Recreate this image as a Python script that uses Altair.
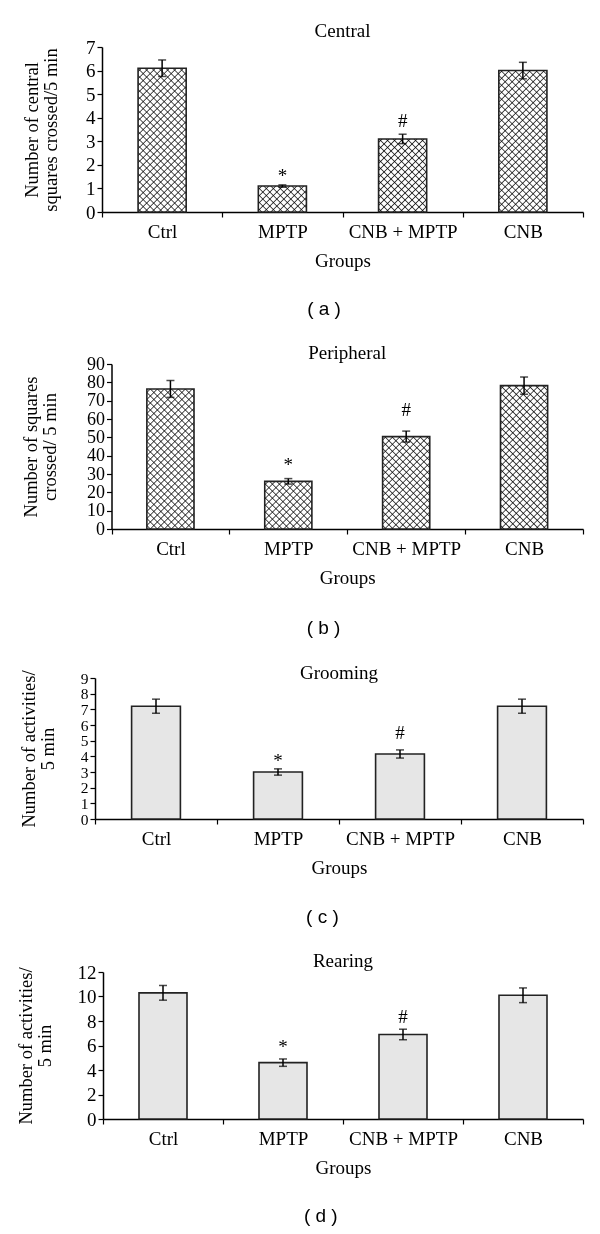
import altair as alt
import pandas as pd

groups = ["Ctrl", "MPTP", "CNB + MPTP", "CNB"]
sig = ["", "*", "#", ""]

# (a) Central
a_mean = [6.1, 1.1, 3.1, 6.0]
a_err = [0.35, 0.05, 0.2, 0.35]
a_sig_y = [0, 1.67, 3.92, 0]

# (b) Peripheral
b_mean = [76.4, 26.0, 50.4, 78.2]
b_err = [4.6, 1.5, 3.0, 4.7]
b_sig_y = [0, 36.4, 65.5, 0]

# (c) Grooming
c_mean = [7.2, 3.0, 4.15, 7.2]
c_err = [0.45, 0.2, 0.26, 0.45]
c_sig_y = [0, 3.87, 5.53, 0]

# (d) Rearing
d_mean = [10.3, 4.6, 6.9, 10.1]
d_err = [0.6, 0.3, 0.43, 0.6]
d_sig_y = [0, 6.12, 8.43, 0]

SERIF = "Liberation Serif"
SANS = "Liberation Sans"
LEFT = 95      # common left edge of plot areas (page px)
RIGHT = 583    # right edge of plot areas (page px)
PW = RIGHT - LEFT
BAR = 0.4      # bar width as a fraction of the category band


def hatch(gid, w, h, direction, pitch=7.0, hw=1.25, color="#3a3a3a", bg="#ffffff"):
    total = w + h
    s = total / (w * w + h * h)
    if direction == "fwd":
        x1, y1, x2, y2 = 0, 0, w * s, h * s
    else:
        x1, y1, x2, y2 = 0, 1, w * s, 1 - h * s
    stops = [{"offset": 0.0, "color": bg}]
    c = pitch / 2
    while c + hw < total:
        stops += [{"offset": round((c - hw) / total, 5), "color": bg},
                  {"offset": round(c / total, 5), "color": color},
                  {"offset": round((c + hw) / total, 5), "color": bg}]
        c += pitch
    stops.append({"offset": 1.0, "color": bg})
    return alt.LinearGradient(gradient="linear", id=gid,
                              stops=[alt.GradientStop(**st) for st in stops],
                              x1=x1, y1=y1, x2=x2, y2=y2)


def panel(key, title, ytitle, mean, err, sig_y, ymax, ystep, plot_h, axis_x,
          caption, crosshatch, title_offset, ytitle_pad, cap_offset, ylabel_size=19):
    df = pd.DataFrame({
        "group": groups,
        "mean": mean,
        "lo": [m - e for m, e in zip(mean, err)],
        "hi": [m + e for m, e in zip(mean, err)],
        "sig": sig,
        "sig_y": sig_y,
    })
    shift = axis_x - LEFT
    xenc = alt.X("group:N", sort=groups,
                 scale=alt.Scale(range=[shift, PW], paddingInner=0, paddingOuter=0),
                 axis=alt.Axis(title="Groups", labelAngle=0, tickBand="extent",
                               tickSize=5, labelPadding=5, titlePadding=10))
    yscale = alt.Scale(domain=[0, ymax])
    yaxis = alt.Axis(title=ytitle, values=list(range(0, ymax + 1, ystep)),
                     offset=-shift, tickSize=5, labelPadding=2,
                     labelOverlap=False, labelFontSize=ylabel_size,
                     titleFontSize=18.5, titlePadding=ytitle_pad, titleLineHeight=19)
    yenc = alt.Y("mean:Q", scale=yscale, axis=yaxis)
    ylo = alt.Y("lo:Q", scale=yscale, axis=yaxis)
    yhi = alt.Y("hi:Q", scale=yscale, axis=yaxis)
    ysig = alt.Y("sig_y:Q", scale=yscale, axis=yaxis)
    base = alt.Chart(df)
    layers = []
    step = (PW - shift) / 4
    bw = BAR * step
    barw = alt.RelativeBandSize(band=BAR)
    if crosshatch:
        for i, g in enumerate(groups):
            h = mean[i] / ymax * plot_h
            layers.append(base.transform_filter(alt.datum.group == g)
                          .mark_bar(width=barw, fill=hatch(f"h{key}{i}f", bw, h, "fwd"),
                                    strokeWidth=0)
                          .encode(x=xenc, y=yenc))
            layers.append(base.transform_filter(alt.datum.group == g)
                          .mark_bar(width=barw, fill=hatch(f"h{key}{i}b", bw, h, "back"),
                                    strokeWidth=0, blend="multiply")
                          .encode(x=xenc, y=yenc))
        layers.append(base.mark_bar(width=barw, fillOpacity=0, stroke="#222222",
                                    strokeWidth=1.6)
                      .encode(x=xenc, y=yenc))
    else:
        layers.append(base.mark_bar(width=barw, fill="#e6e6e6", stroke="#222222",
                                    strokeWidth=1.6)
                      .encode(x=xenc, y=yenc))
    layers.append(base.mark_rule(color="black", strokeWidth=1.5)
                  .encode(x=xenc, y=ylo, y2="hi:Q"))
    layers.append(base.mark_tick(color="black", thickness=1.5, size=8)
                  .encode(x=xenc, y=yhi))
    layers.append(base.mark_tick(color="black", thickness=1.5, size=8)
                  .encode(x=xenc, y=ylo))
    layers.append(base.transform_filter(alt.datum.sig == "*")
                  .mark_text(font=SERIF, fontSize=19, color="black", baseline="middle", dy=3)
                  .encode(x=xenc, y=ysig, text="sig:N"))
    layers.append(base.transform_filter(alt.datum.sig == "#")
                  .mark_text(font=SERIF, fontSize=19, color="black", baseline="middle", dy=1)
                  .encode(x=xenc, y=ysig, text="sig:N"))
    chart = alt.layer(*layers).properties(
        width=PW, height=plot_h,
        title=alt.Title(title, font=SERIF, fontSize=19, fontWeight="normal",
                        color="black", frame="group", anchor="middle",
                        offset=title_offset, dx=shift / 2),
    )
    return alt.vconcat(chart, title=alt.Title(caption, orient="bottom", font=SANS,
                                               fontSize=19, fontWeight="normal",
                                               color="black", anchor="middle",
                                               offset=cap_offset, dx=21))


pa = panel("a", "Central", ["Number of central", "squares crossed/5 min"],
           a_mean, a_err, a_sig_y, 7, 1, 165, 102, "( a )", True, -3, 25, 30)
pb = panel("b", "Peripheral", ["Number of squares", "crossed/ 5 min"],
           b_mean, b_err, b_sig_y, 90, 10, 165, 111.5, "( b )", True, -8, 27, 32,
           ylabel_size=18)
pc = panel("c", "Grooming", ["Number of activities/", "5 min"],
           c_mean, c_err, c_sig_y, 9, 1, 141, 95, "( c )", False, -13, 23, 31,
           ylabel_size=15.5)
pd_ = panel("d", "Rearing", ["Number of activities/", "5 min"],
            d_mean, d_err, d_sig_y, 12, 2, 147, 103, "( d )", False, -8, 23, 30)

chart = alt.vconcat(pa, pb, pc, pd_, spacing=25).properties(
    padding={"left": 8, "top": 14, "right": 5, "bottom": 5}
).configure_view(stroke=None).configure_axis(
    domainColor="black", domainWidth=1.5, tickColor="black", tickWidth=1.2,
    labelColor="black", labelFont=SERIF, labelFontSize=19,
    titleColor="black", titleFont=SERIF, titleFontSize=19, titleFontWeight="normal",
    grid=False,
)

chart.save("out.html", embed_options={"renderer": "svg", "actions": False})
